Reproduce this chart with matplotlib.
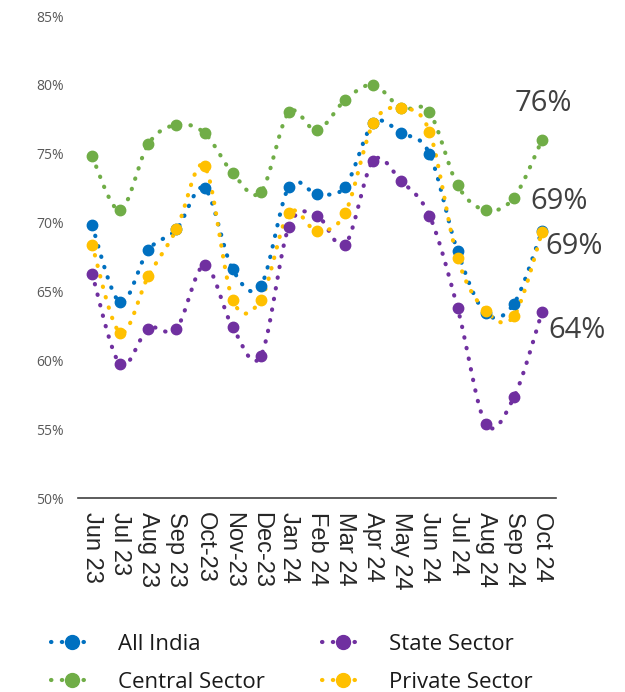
import numpy as np
import matplotlib
matplotlib.use("Agg")
import matplotlib.pyplot as plt
from matplotlib.lines import Line2D

months = ["Jun 23", "Jul 23", "Aug 23", "Sep 23", "Oct-23", "Nov-23", "Dec-23",
          "Jan 24", "Feb 24", "Mar 24", "Apr 24", "May 24", "Jun 24", "Jul 24",
          "Aug 24", "Sep 24", "Oct 24"]

all_india = [69.8, 64.2, 68.0, 69.5, 72.5, 66.6, 65.4, 72.6, 72.1, 72.6,
             77.2, 76.5, 75.0, 67.9, 63.4, 64.1, 69.4]
central = [74.8, 70.9, 75.7, 77.1, 76.5, 73.6, 72.2, 78.0, 76.7, 78.9,
           80.0, 78.3, 78.0, 72.7, 70.9, 71.8, 76.0]
state = [66.3, 59.7, 62.3, 62.3, 66.9, 62.4, 60.3, 69.7, 70.5, 68.4,
         74.5, 73.0, 70.5, 63.8, 55.4, 57.3, 63.5]
private = [68.4, 62.0, 66.1, 69.5, 74.1, 64.4, 64.4, 70.7, 69.4, 70.7,
           77.2, 78.3, 76.6, 67.4, 63.6, 63.2, 69.3]

series = [
    ("Central Sector", central, "#70AD47", "76%", (-27, 36)),
    ("All India", all_india, "#0070C0", "69%", (-12, 29)),
    ("State Sector", state, "#7030A0", "64%", (6, -18)),
    ("Private Sector", private, "#FFC000", "69%", (3, -14)),
]


def smooth(xs, ys, n=20):
    """Catmull-Rom rendering of the data (Excel-like smoothed line)."""
    P = np.column_stack([xs, ys]).astype(float)
    P = np.vstack([P[0], P, P[-1]])
    out = []
    t = np.linspace(0, 1, n, endpoint=False)
    for i in range(1, len(P) - 2):
        p0, p1, p2, p3 = P[i - 1], P[i], P[i + 1], P[i + 2]
        tt = t[:, None]
        pts = 0.5 * ((2 * p1) + (-p0 + p2) * tt +
                     (2 * p0 - 5 * p1 + 4 * p2 - p3) * tt ** 2 +
                     (-p0 + 3 * p1 - 3 * p2 + p3) * tt ** 3)
        out.append(pts)
    out.append(P[-2][None, :])
    out = np.vstack(out)
    return out[:, 0], out[:, 1]


W, H = 625, 692
fig = plt.figure(figsize=(W / 100, H / 100), dpi=100)
ax = fig.add_axes([78 / W, 1 - 498 / H, (556 - 78) / W, (498 - 16) / H])

x = np.arange(len(months))
dot_ls = (0, (0.1, 2.5))
for name, vals, col, lab, off in series:
    sx, sy = smooth(x, vals)
    ax.plot(sx, sy, color=col, lw=3, ls=dot_ls, dash_capstyle="round", zorder=2)
    ax.plot(x, vals, ls="none", marker="o", ms=7.5, color=col, mec=col, zorder=3)
    ax.annotate(lab, (x[-1], vals[-1]), xytext=off, textcoords="offset pixels",
                fontsize=21, color="#404040", family="Open Sans",
                ha="left", va="center")

ax.set_xlim(-0.5, len(months) - 0.5)
ax.set_ylim(50, 85)
yt = np.arange(50, 86, 5)
ax.set_yticks(yt)
ax.set_yticklabels([f"{v}%" for v in yt], family="Open Sans", fontsize=10,
                   color="#595959")
ax.set_xticks(x)
ax.set_xticklabels(months, rotation=270, family="Liberation Sans", fontsize=17,
                   color="#262626")
ax.tick_params(axis="both", length=0)
ax.tick_params(axis="y", pad=10)
ax.tick_params(axis="x", pad=10)
for s in ["top", "right", "left"]:
    ax.spines[s].set_visible(False)
ax.spines["bottom"].set_color("#404040")
ax.spines["bottom"].set_linewidth(1.2)


def handle(col):
    return Line2D([], [], color=col, lw=3, ls=dot_ls, dash_capstyle="round",
                  marker="o", ms=10, mec=col)


legprops = dict(frameon=False, prop={"family": "Open Sans", "size": 16},
                handlelength=1.85, handletextpad=1.17, labelspacing=0.75,
                borderpad=0, borderaxespad=0, loc="upper left")
leg1 = fig.legend([handle("#0070C0"), handle("#70AD47")],
                  ["All India", "Central Sector"],
                  bbox_to_anchor=(51 / W, 1 - 634 / H), **legprops)
leg2 = fig.legend([handle("#7030A0"), handle("#FFC000")],
                  ["State Sector", "Private Sector"],
                  bbox_to_anchor=(322 / W, 1 - 634 / H), **legprops)
for t in leg1.get_texts() + leg2.get_texts():
    t.set_color("#1a1a1a")

fig.savefig("out.png", dpi=100)
